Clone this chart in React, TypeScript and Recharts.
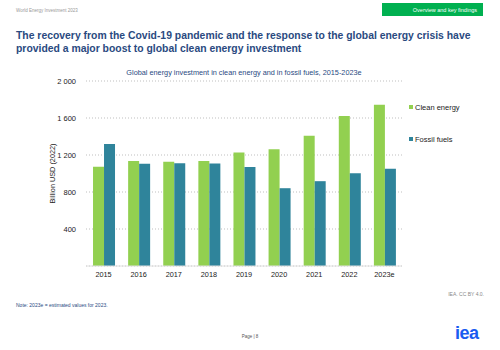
import { BarChart, Bar, XAxis, YAxis, CartesianGrid, Label } from 'recharts';

const years = ['2015', '2016', '2017', '2018', '2019', '2020', '2021', '2022', '2023e'];
const cleanEnergy = [1072, 1134, 1127, 1134, 1228, 1261, 1408, 1621, 1744];
const fossilFuels = [1318, 1105, 1112, 1109, 1069, 841, 917, 1004, 1051];
const yTicks = [0, 400, 800, 1200, 1600, 2000];

const series = [
  { key: 'clean', name: 'Clean energy', color: '#92d050' },
  { key: 'fossil', name: 'Fossil fuels', color: '#2f849b' },
];

const data = years.map((year, i) => ({ year, clean: cleanEnergy[i], fossil: fossilFuels[i] }));

const font = '"Liberation Sans", Arial, sans-serif';

// "2 000" style thousands separator, no label at zero
const formatTick = (v: number) => (v === 0 ? '' : String(v).replace(/\B(?=(\d{3})+(?!\d))/g, ' '));

export default function App() {
  return (
    <div style={{ position: 'absolute', left: 0, top: 0, width: 500, height: 350, background: '#fff', fontFamily: font, overflow: 'hidden' }}>
      {/* page header */}
      <div style={{ position: 'absolute', left: 16, top: 8, fontSize: 4.5, color: '#999' }}>World Energy Investment 2023</div>
      <div style={{ position: 'absolute', left: 382, top: 3, width: 101, height: 13, background: '#00b050', color: '#fff', fontSize: 5.5, display: 'flex', alignItems: 'center', justifyContent: 'flex-end', paddingRight: 6, boxSizing: 'border-box' }}>
        Overview and key findings
      </div>
      <div style={{ position: 'absolute', left: 16, top: 29, width: 475, fontSize: 10.4, fontWeight: 'bold', color: '#2a4a7f', lineHeight: '13px' }}>
        The recovery from the Covid-19 pandemic and the response to the global energy crisis have provided a major boost to global clean energy investment
      </div>

      {/* chart title */}
      <div style={{ position: 'absolute', left: 86, top: 68, width: 316, textAlign: 'center', fontSize: 7.3, color: '#2a4a7f' }}>
        Global energy investment in clean energy and in fossil fuels, 2015-2023e
      </div>

      <div style={{ position: 'absolute', left: 0, top: 0 }}>
        <BarChart
          width={500}
          height={350}
          data={data}
          margin={{ top: 81, right: 98, bottom: 64, left: 0 }}
          barCategoryGap="20%"
          barGap={0}
        >
          <CartesianGrid vertical={false} stroke="#bfbfbf" strokeDasharray="1 2" />
          <XAxis
            dataKey="year"
            height={20}
            tickLine={false}
            axisLine={{ stroke: '#e0e0e0' }}
            tick={{ fontSize: 7.3, fill: '#222', fontFamily: font }}
            tickMargin={0}
          />
          <YAxis
            width={86}
            domain={[0, 2000]}
            ticks={yTicks}
            tickFormatter={formatTick}
            tickLine={false}
            axisLine={false}
            tick={{ fontSize: 7.5, fill: '#222', fontFamily: font }}
            tickMargin={4}
          >
            <Label
              value="Billion USD (2022)"
              angle={-90}
              position="insideLeft"
              offset={52}
              style={{ fontSize: 7.3, fill: '#222', fontFamily: font, textAnchor: 'middle' }}
            />
          </YAxis>
          {series.map((s) => (
            <Bar key={s.key} dataKey={s.key} name={s.name} fill={s.color} isAnimationActive={false} />
          ))}
        </BarChart>
      </div>

      {/* legend */}
      <div style={{ position: 'absolute', left: 409, top: 91, fontSize: 7.5, color: '#222' }}>
        {series.map((s) => (
          <div key={s.key} style={{ display: 'flex', alignItems: 'center', gap: 2, height: 32 }}>
            <div style={{ width: 4, height: 4, background: s.color }} />
            <span>{s.name}</span>
          </div>
        ))}
      </div>

      {/* footer */}
      <div style={{ position: 'absolute', right: 16, top: 291, fontSize: 5, color: '#888' }}>IEA. CC BY 4.0.</div>
      <div style={{ position: 'absolute', left: 16, top: 302, fontSize: 5, color: '#2a4a7f' }}>Note: 2023e = estimated values for 2023.</div>
      <div style={{ position: 'absolute', left: 0, width: 500, top: 334, textAlign: 'center', fontSize: 4.5, color: '#555' }}>Page | 8</div>
      <div style={{ position: 'absolute', left: 455, top: 323, fontSize: 18, fontWeight: 'bold', color: '#1a5cf0', letterSpacing: -0.5 }}>iea</div>
    </div>
  );
}
